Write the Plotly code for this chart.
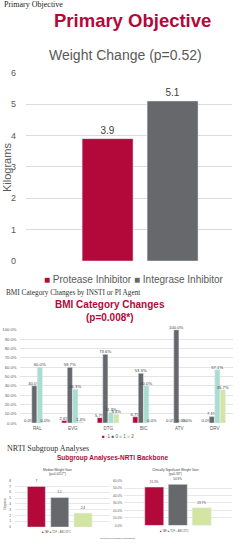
import plotly.graph_objects as go

W, H = 249, 554

# ---------------- data ----------------
# Primary objective: weight change (kg)
wc_groups = ["Protease Inhibitor", "Integrase Inhibitor"]
wc_values = [3.9, 5.1]

# BMI category changes (%)
bmi_agents = ["RAL", "EVG", "DTG", "BIC", "ATV", "DRV"]
bmi_series = ["-1", "0", "1", "2"]
bmi_m1 = [0.0, 2.6, 5.7, 6.7, 0.0, 0.0]
bmi_0 = [40.0, 59.7, 73.6, 53.3, 100.0, 7.1]
bmi_p1 = [60.0, 36.3, 11.3, 40.0, 0.0, 57.1]
bmi_p2 = [0.0, 1.4, 9.4, 0.0, 0.0, 35.7]

# NRTI subgroup analyses
nrti_names = ["TAF", "TDF", "ABC/3TC"]
median_gain = [7.0, 5.1, 2.4]
clin_sig_gain = [51.3, 54.9, 23.7]

# ---------------- style ----------------
RED = "#B3093A"
GRAY = "#67686B"
TEAL = "#A9DDCF"
GREEN = "#D3E5A2"
TXT = "#595959"
GRID = "#DCDCDC"
SANS = "Liberation Sans Narrow, Liberation Sans, Arial, sans-serif"
BOLD = "Liberation Sans, Arial, sans-serif"
SERIF = "Liberation Serif, Times New Roman, serif"


def px(x):
    return x / W


def py(y):
    return 1 - y / H


fig = go.Figure()

# ---- chart 1: weight change ----
wc_colors = [RED, GRAY]
wc_offsets = [-0.228, 0.087]
for name, val, col, off in zip(wc_groups, wc_values, wc_colors, wc_offsets):
    fig.add_trace(go.Bar(
        x=["Weight Change"], y=[val], name=name, marker_color=col,
        width=0.247, offset=off, xaxis="x", yaxis="y",
        text=[f"{val:.1f}"], textposition="outside", constraintext="none",
        textfont=dict(size=10, color="#404040", family=BOLD),
        cliponaxis=False, showlegend=False,
    ))

# ---- chart 2: BMI category changes ----
bmi_vals = [bmi_m1, bmi_0, bmi_p1, bmi_p2]
bmi_colors = [RED, GRAY, TEAL, GREEN]
bmi_offsets = [-0.31, -0.155, 0.0, 0.155]
for name, vals, col, off in zip(bmi_series, bmi_vals, bmi_colors, bmi_offsets):
    fig.add_trace(go.Bar(
        x=bmi_agents, y=vals, name=name, marker_color=col,
        width=0.145, offset=off, xaxis="x2", yaxis="y2",
        text=[f"{v:.1f}%" for v in vals], textposition="outside",
        constraintext="none",
        textfont=dict(size=4.2, color="#404040", family=SANS),
        cliponaxis=False, showlegend=False,
    ))

# ---- chart 3 & 4: NRTI subgroup ----
nrti_colors = [RED, GRAY, GREEN]
left_offsets = [-0.37, -0.124, 0.121]
right_offsets = [-0.308, -0.09, 0.132]
for name, val, col, off in zip(nrti_names, median_gain, nrti_colors, left_offsets):
    fig.add_trace(go.Bar(
        x=["Median Weight Gain"], y=[val], name=name, marker_color=col,
        width=0.19, offset=off, xaxis="x3", yaxis="y3",
        text=[f"{val:g}"], textposition="outside", constraintext="none",
        textfont=dict(size=3.2, color="#404040", family=SANS),
        cliponaxis=False, showlegend=False,
    ))
for name, val, col, off in zip(nrti_names, clin_sig_gain, nrti_colors, right_offsets):
    fig.add_trace(go.Bar(
        x=["Clinically Significant Weight Gain"], y=[val], name=name,
        marker_color=col, width=0.176, offset=off, xaxis="x4", yaxis="y4",
        text=[f"{val:.1f}%"], textposition="outside", constraintext="none",
        textfont=dict(size=3.0, color="#404040", family=SANS),
        cliponaxis=False, showlegend=False,
    ))

axis_common = dict(showline=False, zeroline=False, fixedrange=True)

fig.update_layout(
    width=W, height=H,
    margin=dict(l=0, r=0, t=0, b=0),
    paper_bgcolor="white", plot_bgcolor="white",
    barmode="overlay",
    showlegend=False,
    xaxis=dict(domain=[px(26), px(232.3)], anchor="y", range=[-0.5, 0.5],
               showticklabels=False, showgrid=False, **axis_common),
    yaxis=dict(domain=[py(260.7), py(69)], anchor="x", range=[0, 6], dtick=1,
               gridcolor=GRID, gridwidth=1, ticklabelstandoff=9,
               tickfont=dict(size=9, color=TXT, family=SANS), **axis_common),
    xaxis2=dict(domain=[px(19.5), px(232.5)], anchor="y2", range=[-0.5, 5.5],
                showgrid=False, ticks="", ticklabelstandoff=1,
                tickfont=dict(size=4.5, color=TXT, family=SANS), **axis_common),
    yaxis2=dict(domain=[py(425.7), py(330.7)], anchor="x2", range=[0, 100],
                dtick=10, tickformat=".1f", ticksuffix="%",
                gridcolor="#E4E4E4", gridwidth=1, ticklabelstandoff=2,
                tickfont=dict(size=4.2, color=TXT, family=SANS), **axis_common),
    xaxis3=dict(domain=[px(15), px(110)], anchor="y3", range=[-0.5, 0.5],
                showticklabels=False, showgrid=False, **axis_common),
    yaxis3=dict(domain=[py(531.7), py(484.3)], anchor="x3", range=[0, 8],
                dtick=1, gridcolor="#E8E8E8", gridwidth=0.6, ticklabelstandoff=3,
                tickfont=dict(size=3.2, color=TXT, family=SANS), **axis_common),
    xaxis4=dict(domain=[px(124), px(232)], anchor="y4", range=[-0.5, 0.5],
                showticklabels=False, showgrid=False, **axis_common),
    yaxis4=dict(domain=[py(530), py(484.3)], anchor="x4", range=[0, 60],
                dtick=10, tickformat=".1f", ticksuffix="%",
                gridcolor="#E8E8E8", gridwidth=0.6, ticklabelstandoff=1,
                tickfont=dict(size=3.2, color=TXT, family=SANS), **axis_common),
)


def ann(text, x, y, size, color="#333333", family=SANS, xanchor="center",
        yanchor="middle", textangle=0):
    fig.add_annotation(text=text, x=px(x), y=py(y), xref="paper", yref="paper",
                       showarrow=False, xanchor=xanchor, yanchor=yanchor,
                       textangle=textangle,
                       font=dict(size=size, color=color, family=family))


def sq(c):
    return f"<span style='color:{c}'>■</span>"


ann("Primary Objective", 2, -0.5, 8, "#222222", SERIF, xanchor="left")
ann("<b>Primary Objective</b>", 132, 16, 18.5, RED, BOLD)
ann("Weight Change (p=0.52)", 125, 51, 14, TXT, BOLD)
ann("Kilograms", 7, 166, 11, TXT, BOLD, textangle=-90)
ann(sq(RED) + " Protease Inhibitor", 42, 280, 10, TXT, SANS, xanchor="left")
ann(sq(GRAY) + " Integrase Inhibitor", 132, 280, 10, TXT, SANS, xanchor="left")

ann("BMI Category Changes by INSTI or PI Agent", 4, 292.5, 7.3, "#333333",
    SERIF, xanchor="left")
ann("<b>BMI Category Changes<br>(p=0.008*)</b>", 110, 312, 10, RED, BOLD)
ann(sq(RED) + " -1 " + sq(GRAY) + " 0 " + sq(TEAL) + " 1 " + sq(GREEN) + " 2",
    118, 439, 4.6, TXT, SANS)

ann("NRTI Subgroup Analyses", 5, 451.5, 8, "#333333", SERIF, xanchor="left")
ann("<b>Subgroup Analyses-NRTI Backbone</b>", 112, 461, 6.5, RED, BOLD)
ann("Median Weight Gain<br>(p=0.0217*)", 57, 476, 3.2, "#404040", SANS)
ann("Clinically Significant Weight Gain<br>(p=0.33*)", 175, 476, 3.2,
    "#404040", SANS)
ann("Kilograms", 5, 508, 2.6, TXT, SANS, textangle=-90)
ann(sq(RED) + " TAF " + sq(GRAY) + " TDF " + sq(GREEN) + " ABC/3TC",
    56, 537, 2.6, TXT, SANS)
ann(sq(RED) + " TAF " + sq(GRAY) + " TDF " + sq(GREEN) + " ABC/3TC",
    174, 536, 2.6, TXT, SANS)
ann("*Corrected for multiple comparisons", 98, 543, 2.2, "#404040", SANS,
    xanchor="left")

fig.write_html("out.html")
